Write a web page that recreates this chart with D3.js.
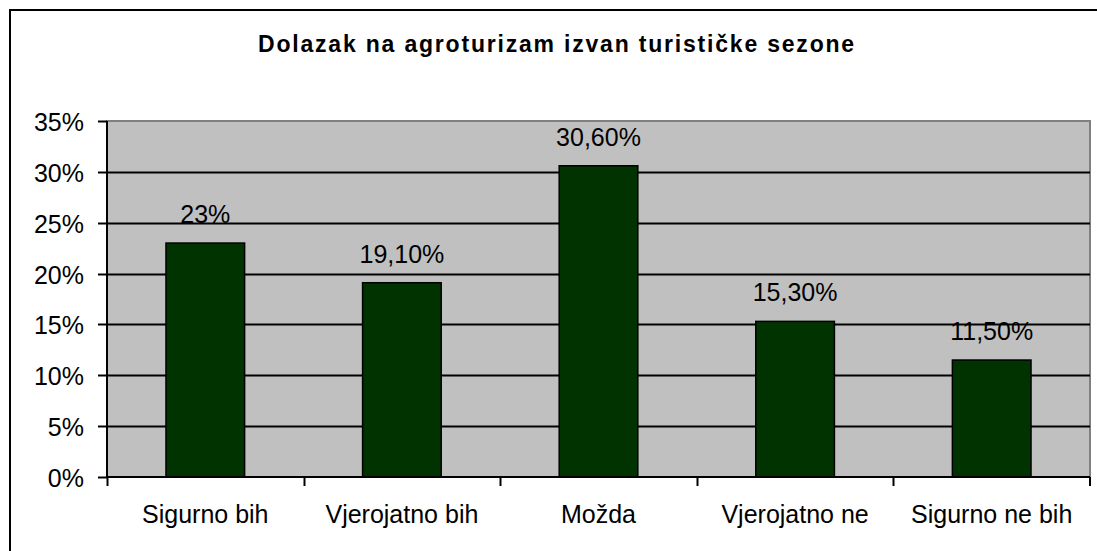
<!DOCTYPE html>
<html lang="hr">
<head>
    <meta charset="UTF-8">
    <title>Dolazak na agroturizam izvan turističke sezone</title>
    <script src="https://cdn.jsdelivr.net/npm/d3@7"></script>
    <style>
        body, html {
            margin: 0;
            padding: 0;
            background: #fff;
            overflow: hidden;
        }
        svg { display: block; }
        text { font-family: "Liberation Sans", Arial, sans-serif; fill: #000; }
    </style>
</head>
<body>
    <svg id="mainsvg"></svg>
    <script>
        // podaci
        const categories = ["Sigurno bih", "Vjerojatno bih", "Možda", "Vjerojatno ne", "Sigurno ne bih"];
        const values = [0.23, 0.191, 0.306, 0.153, 0.115];
        const valueLabels = ["23%", "19,10%", "30,60%", "15,30%", "11,50%"];
        const yTicks = [0, 0.05, 0.10, 0.15, 0.20, 0.25, 0.30, 0.35];
        const title = "Dolazak na agroturizam izvan turističke sezone";

        const width = 1097, height = 551;
        const svg = d3.select("#mainsvg")
            .attr("width", width)
            .attr("height", height);

        // okvir grafikona (desno i dolje izlazi iz slike)
        svg.append("rect")
            .attr("x", 10).attr("y", 10)
            .attr("width", 1100).attr("height", 560)
            .attr("fill", "#fff")
            .attr("stroke", "#000")
            .attr("stroke-width", 2);

        const plot = { left: 107, top: 121, right: 1090, bottom: 477 };

        const x = d3.scaleBand()
            .domain(categories)
            .range([plot.left, plot.right])
            .paddingInner(0.6)
            .paddingOuter(0.3);

        const xBand = d3.scaleBand()
            .domain(categories)
            .range([plot.left, plot.right]);

        const y = d3.scaleLinear()
            .domain([0, 0.35])
            .range([plot.bottom, plot.top]);

        // siva pozadina
        svg.append("rect")
            .attr("x", plot.left).attr("y", plot.top)
            .attr("width", plot.right - plot.left)
            .attr("height", plot.bottom - plot.top)
            .attr("fill", "#c0c0c0")
            .attr("stroke", "#808080")
            .attr("stroke-width", 2);

        // mreža
        svg.append("g")
            .selectAll("line")
            .data(yTicks.slice(1, -1))
            .join("line")
            .attr("x1", plot.left).attr("x2", plot.right)
            .attr("y1", d => Math.round(y(d)) + 0.5)
            .attr("y2", d => Math.round(y(d)) + 0.5)
            .attr("stroke", "#000")
            .attr("stroke-width", 2);

        // stupci
        svg.append("g")
            .selectAll("rect")
            .data(values)
            .join("rect")
            .attr("x", (d, i) => x(categories[i]))
            .attr("y", d => y(d))
            .attr("width", x.bandwidth())
            .attr("height", d => plot.bottom - y(d))
            .attr("fill", "#003300")
            .attr("stroke", "#000")
            .attr("stroke-width", 1.5);

        // oznake vrijednosti
        svg.append("g")
            .selectAll("text")
            .data(values)
            .join("text")
            .attr("x", (d, i) => x(categories[i]) + x.bandwidth() / 2)
            .attr("y", d => y(d) - 20)
            .attr("text-anchor", "middle")
            .attr("font-size", 25)
            .text((d, i) => valueLabels[i]);

        // y os
        const yAxis = svg.append("g");
        yAxis.append("line")
            .attr("x1", plot.left).attr("x2", plot.left)
            .attr("y1", plot.top).attr("y2", plot.bottom)
            .attr("stroke", "#000").attr("stroke-width", 2);
        yAxis.selectAll(".tick")
            .data(yTicks)
            .join("line")
            .attr("x1", plot.left - 9).attr("x2", plot.left)
            .attr("y1", d => Math.round(y(d)) + 0.5)
            .attr("y2", d => Math.round(y(d)) + 0.5)
            .attr("stroke", "#000").attr("stroke-width", 2);
        yAxis.selectAll("text")
            .data(yTicks)
            .join("text")
            .attr("x", plot.left - 23)
            .attr("y", d => y(d) + 10)
            .attr("text-anchor", "end")
            .attr("font-size", 25)
            .text(d3.format(".0%"));

        // x os
        const xAxis = svg.append("g");
        xAxis.append("line")
            .attr("x1", plot.left).attr("x2", plot.right)
            .attr("y1", plot.bottom).attr("y2", plot.bottom)
            .attr("stroke", "#000").attr("stroke-width", 2);
        xAxis.selectAll("line.tick")
            .data(categories.concat([null]))
            .join("line")
            .attr("class", "tick")
            .attr("x1", d => d === null ? plot.right : Math.round(xBand(d)) + 0.5)
            .attr("x2", d => d === null ? plot.right : Math.round(xBand(d)) + 0.5)
            .attr("y1", plot.bottom).attr("y2", plot.bottom + 9)
            .attr("stroke", "#000").attr("stroke-width", 2);
        xAxis.selectAll("text")
            .data(categories)
            .join("text")
            .attr("x", d => xBand(d) + xBand.bandwidth() / 2)
            .attr("y", 523)
            .attr("text-anchor", "middle")
            .attr("font-size", 25)
            .text(d => d);

        // naslov
        svg.append("text")
            .attr("x", 557)
            .attr("y", 52)
            .attr("text-anchor", "middle")
            .attr("font-size", 23)
            .attr("font-weight", "bold")
            .attr("letter-spacing", 1.8)
            .text(title);
    </script>
</body>
</html>
